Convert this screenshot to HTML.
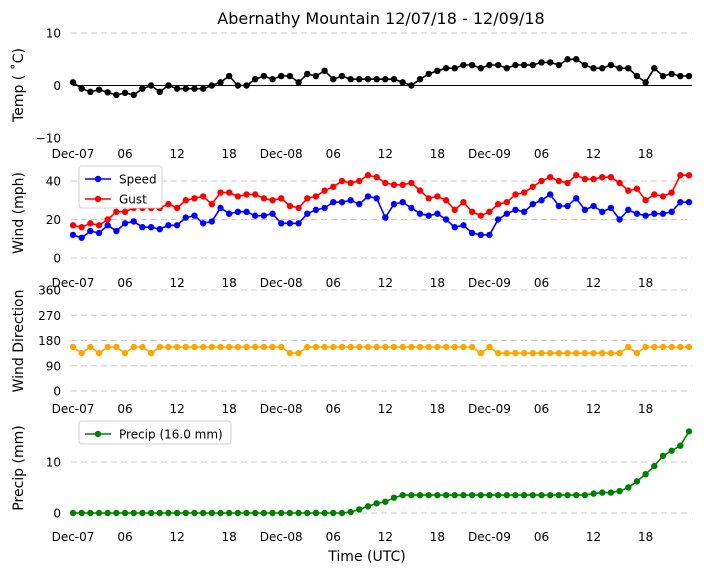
<!DOCTYPE html>
<html><head><meta charset="utf-8">
<style>
body{margin:0;background:#fff;}
svg{display:block;font-family:"DejaVu Sans","Liberation Sans",sans-serif;}
</style></head>
<body>
<svg id="chart" width="704" height="573" viewBox="0 0 704 573">
<text x="381" y="24" font-size="16" text-anchor="middle">Abernathy Mountain 12/07/18 - 12/09/18</text>
<text x="367" y="561" font-size="14" text-anchor="middle">Time (UTC)</text>
</svg>
<script>
const xTickLabels = ["Dec-07","06","12","18","Dec-08","06","12","18","Dec-09","06","12","18"];
const temp = [0.6,-0.6,-1.2,-0.8,-1.3,-1.8,-1.4,-1.8,-0.6,0,-1.2,0,-0.6,-0.6,-0.6,-0.6,0,0.6,1.8,0,0,1.2,1.8,1.2,1.8,1.8,0.6,2.2,1.8,2.8,1.2,1.8,1.2,1.2,1.2,1.2,1.2,1.2,0.6,0,1.2,2.2,2.8,3.3,3.3,3.9,3.9,3.3,3.9,3.9,3.3,3.9,3.9,3.9,4.4,4.4,3.9,5.0,5.0,3.9,3.3,3.3,3.9,3.3,3.3,1.8,0.6,3.3,1.8,2.2,1.8,1.8];
const speed = [12,10.5,14,13,17,14,18,19,16,16,15,17,17,21,22,18,19,26,23,24,24,22,22,23,18,18,18,23,25,26,29,29,30,28,32,31,21,28,29,26,23,22,23,20,16,17,13,12,12,20,23,25,24,28,30,33,27,27,31,25,27,24,26,20,25,23,22,23,23,24,29,29];
const gust = [17,16,18,17,20,24,24,26,26,26,26,28,26,30,31,32,28,34,34,32,33,33,31,30,31,27,26,31,32,35,37,40,39,40,43,42,39,38,38,39,35,31,32,30,25,29,24,22,24,28,29,33,34,37,40,42,40,39,43,41,41,42,42,39,35,36,30,33,32,34,43,43];
const direction = [157,135,157,135,157,157,135,157,157,135,157,157,157,157,157,157,157,157,157,157,157,157,157,157,157,135,135,157,157,157,157,157,157,157,157,157,157,157,157,157,157,157,157,157,157,157,157,135,157,135,135,135,135,135,135,135,135,135,135,135,135,135,135,135,157,135,157,157,157,157,157,157];
const precip = [0,0,0,0,0,0,0,0,0,0,0,0,0,0,0,0,0,0,0,0,0,0,0,0,0,0,0,0,0,0,0,0,0.2,0.7,1.3,1.9,2.2,3.0,3.5,3.5,3.5,3.5,3.5,3.5,3.5,3.5,3.5,3.5,3.5,3.5,3.5,3.5,3.5,3.5,3.5,3.5,3.5,3.5,3.5,3.5,3.8,4.0,4.0,4.3,5.0,6.2,7.6,9.2,11.2,12.2,13.2,16.0];
const tempTicks = [10,0,-10];
const windTicks = [0,20,40];
const dirTicks = [0,90,180,270,360];
const precipTicks = [0,10];

const svg = document.getElementById('chart');
const NS = 'http://www.w3.org/2000/svg';
function mk(tag, attrs, parent){const e=document.createElementNS(NS,tag);for(const k in attrs)e.setAttribute(k,attrs[k]);(parent||svg).appendChild(e);return e;}
const x = i => 73 + i * 616 / 71;
function yScale(v0,p0,v1,p1){return v => p0 + (v - v0) * (p1 - p0) / (v1 - v0);}
const fmt = t => t < 0 ? '\u2212' + Math.abs(t) : String(t);

function panel(name, ys, ticks, gridTicks, xlabY, ylabel, ylabY){
  const g = mk('g', {});
  
  
  gridTicks.forEach(t => {
    const l = mk('line', {x1:71,x2:692,y1:ys(t),y2:ys(t),stroke:'#c8c8c8','stroke-dasharray':'6,4','stroke-width':1}, g);
    
    
  });
  ticks.forEach(t => {
    const tx = mk('text', {x:61,y:ys(t)+4.5,'font-size':12,'text-anchor':'end'}, g);
    tx.textContent = fmt(t);
    
    
  });
  xTickLabels.forEach((lab, k) => {
    const tx = mk('text', {x:x(k*6),y:xlabY,'font-size':12,'text-anchor':'middle'}, g);
    tx.textContent = lab;
    
    
  });
  const yl = mk('text', {x:0,y:0,'font-size':14,'text-anchor':'middle',transform:`translate(23,${ylabY}) rotate(-90)`}, g);
  yl.textContent = ylabel;
  
  
  return g;
}
function series(g, name, data, ys, color){
  const pts = data.map((v,i)=>x(i).toFixed(1)+','+ys(v).toFixed(1)).join(' ');
  const pl = mk('polyline', {points:pts,fill:'none',stroke:color,'stroke-width':1.6}, g);
  
  
  data.forEach((v,i)=>{
    const c = mk('circle', {cx:x(i),cy:ys(v),r:3.2,fill:color}, g);
    
    
  });
}
function legend(g, name, x0, y0, w, h, entries){
  const lg = mk('g', {}, g);
  
  
  mk('rect', {x:x0,y:y0,width:w,height:h,rx:3,fill:'#fff',stroke:'#d0d0d0'}, lg);
  entries.forEach((e,k)=>{
    const yy = y0 + 13 + k*20;
    mk('line', {x1:x0+6,x2:x0+32,y1:yy,y2:yy,stroke:e.c,'stroke-width':1.6}, lg);
    mk('circle', {cx:x0+19,cy:yy,r:3.2,fill:e.c}, lg);
    const t = mk('text', {x:x0+40,y:yy+4.5,'font-size':12}, lg);
    t.textContent = e.t;
    
    
  });
}

// Temperature
const yT = yScale(10,33,-10,138);
const gT = panel('temp', yT, tempTicks, [10], 158, 'Temp ( ˚C)', 85);
const zl = mk('line', {x1:73,x2:692,y1:yT(0),y2:yT(0),stroke:'#000','stroke-width':1}, gT);


series(gT, 'temp', temp, yT, '#000');

// Wind
const yW = yScale(0,258,40,181);
const gW = panel('wind', yW, windTicks, windTicks, 287, 'Wind (mph)', 213);
series(gW, 'speed', speed, yW, '#0000ff');
series(gW, 'gust', gust, yW, '#ff0000');
legend(gW, 'wind-legend', 79, 166, 83, 42, [{t:'Speed',c:'#0000ff'},{t:'Gust',c:'#ff0000'}]);

// Direction
const yD = yScale(0,391,360,290);
const gD = panel('direction', yD, dirTicks, dirTicks, 413, 'Wind Direction', 341);
series(gD, 'direction', direction, yD, '#ffa500');

// Precip
const yP = yScale(0,513,10,462);
const gP = panel('precip', yP, precipTicks, precipTicks, 541, 'Precip (mm)', 468);
series(gP, 'precip', precip, yP, '#008000');
legend(gP, 'precip-legend', 79, 421, 152, 23, [{t:'Precip (16.0 mm)',c:'#008000'}]);
</script>
</body></html>
